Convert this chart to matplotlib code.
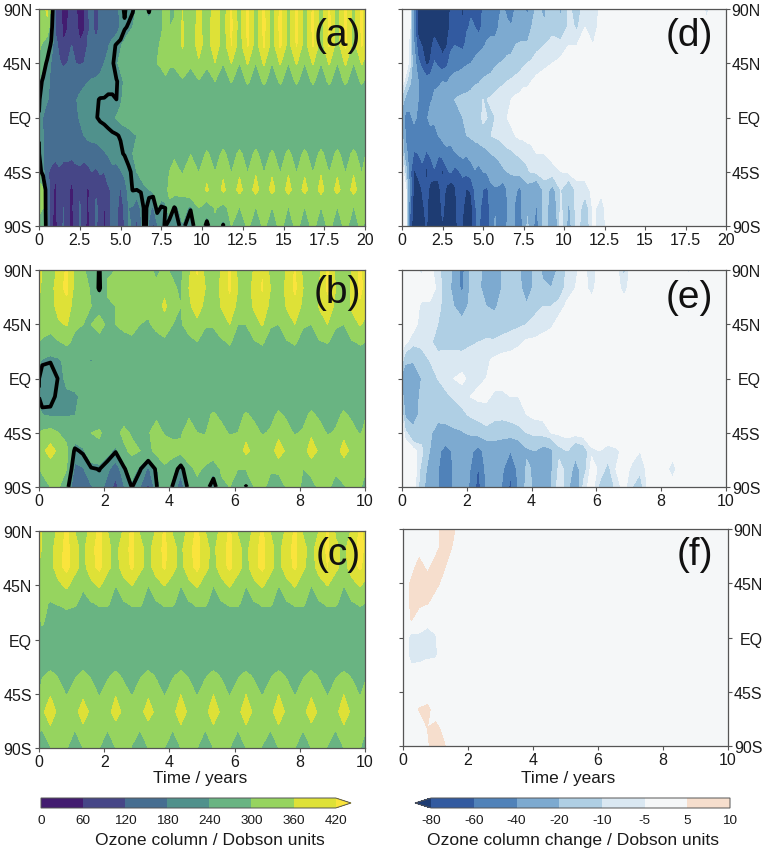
import numpy as np
import matplotlib
matplotlib.use("Agg")
import matplotlib.pyplot as plt
from matplotlib.colors import ListedColormap, BoundaryNorm

plt.rcParams['font.family'] = ['Liberation Sans', 'DejaVu Sans']

LAT = [90, 75, 60, 45, 30, 15, 0, -15, -30, -45, -60, -75, -90]

TIME_EARLY = [0, .25, .5, .75, 1, 1.25, 1.5, 1.75, 2, 2.25, 2.5, 2.75, 3, 3.25, 3.5, 3.75, 4, 4.25, 4.5, 4.75,
              5, 5.25, 5.5, 5.75, 6, 6.25, 6.5, 6.75, 7, 7.25, 7.5, 7.75, 8]
TIME_A_LATE = [8.3, 8.8, 9.3, 9.8, 10.3, 10.8, 11.3, 11.8, 12.3, 12.8, 13.3, 13.8, 14.3, 14.8, 15.3, 15.8,
               16.3, 16.8, 17.3, 17.8, 18.3, 18.8, 19.3, 19.8, 20]
TIME_D_LATE = [8.3, 8.8, 9.3, 9.8, 10.3, 10.8, 11.3, 11.8, 12.3, 12.8, 13.3, 18.3, 18.8, 19.3, 20]
TIME_10 = [0, .1, .35, .6, .85, 1.1, 1.35, 1.6, 1.85, 2.1, 2.35, 2.6, 2.85, 3.1, 3.35, 3.6, 3.85, 4.1, 4.35, 4.6, 4.85,
           5.1, 5.35, 5.6, 5.85, 6.1, 6.35, 6.6, 6.85, 7.1, 7.35, 7.6, 7.85, 8.1, 8.35, 8.6, 8.85, 9.1, 9.35, 9.6, 9.85, 10]
TIME_F = [0, .25, .5, .75, 1, 1.25, 1.5, 1.75, 2, 10]

A_EARLY = [
 [320,340,370,280, 120,75,45,50, 100,65,45,50, 120,130,110,125, 150,135,125,150, 205,225,205,215, 245,265,250,212, 262,285,295,315, 300],
 [320,335,345,250, 110,80,50,58, 105,75,45,52, 115,125,110,125, 150,140,130,150, 185,215,225,240, 265,275,270,255, 270,285,295,310, 300],
 [310,290,260,210, 140,105,62,85, 120,100,65,75, 125,135,125,135, 165,175,205,225, 235,250,270,280, 290,290,285,285, 285,295,305,330, 310],
 [290,250,210,175, 140,125,110,120, 130,120,115,120, 145,150,145,160, 180,195,215,235, 250,265,280,285, 285,285,280,285, 295,300,305,320, 305],
 [240,212,190,172, 160,150,155,165, 165,165,170,172, 178,185,190,195, 200,205,210,218, 228,245,255,265, 270,275,278,280, 280,280,285,290, 285],
 [225,195,182,175, 168,165,165,168, 172,178,185,195, 205,212,216,222, 222,226,224,220, 235,250,258,262, 265,268,268,270, 270,272,272,272, 272],
 [218,178,165,162, 165,170,172,168, 170,175,182,192, 205,212,218,225, 228,232,236,242, 248,255,258,262, 265,266,266,268, 268,268,268,268, 268],
 [219,180,165,160, 158,160,162,162, 160,165,172,180, 188,192,198,203, 207,212,216,218, 222,224,228,235, 240,248,252,258, 264,268,270,272, 272],
 [222,185,155,148, 150,145,135,135, 140,145,140,140, 155,160,155,165, 175,185,195,205, 215,223,230,240, 248,255,258,262, 268,280,275,282, 285],
 [250,195,130,105, 70,110,100,100, 78,100,110,95, 100,120,110,125, 120,150,170,160, 175,195,215,225, 240,250,258,262, 270,285,290,285, 300],
 [340,310,160,85, 45,85,110,75, 45,80,110,85, 50,85,115,95, 70,110,130,135, 115,150,200,222, 220,225,235,240, 250,290,275,285, 310],
 [320,300,170,75, 45,90,120,80, 45,90,125,90, 50,90,125,110, 50,105,135,140, 85,130,180,175, 125,190,235,195, 170,240,215,220, 290],
 [270,250,205,70, 40,85,125,75, 40,90,125,80, 40,95,125,100, 45,100,135,150, 70,125,190,170, 100,165,240,170, 100,170,205,225, 180],
]
A_LATE = [
 [295,360,310,375,320,395,325,425,330,430,330,432,330,435,335,430,330,430,330,430,330,435,335,430,400],
 [305,365,315,385,320,405,325,430,330,432,330,435,330,438,335,432,330,432,330,432,330,435,335,430,400],
 [315,365,320,385,325,400,325,420,330,425,330,428,330,430,335,425,330,425,330,425,330,430,335,425,395],
 [305,335,305,350,305,358,300,362,298,365,298,368,298,365,298,365,298,365,298,365,298,368,298,365,340],
 [285,293,285,296,285,300,283,302,282,305,282,306,282,305,282,305,282,305,282,306,282,306,282,305,295],
 [272,273,272,274,272,275,272,275,272,275,272,276,272,275,272,275,272,275,272,276,272,275,272,275,272],
 [268,268,268,268,268,268,268,268,268,268,268,268,268,268,268,268,268,268,268,268,268,268,268,268,268],
 [272,272,272,272,272,272,272,272,272,272,272,272,272,272,272,272,272,272,272,272,272,272,272,272,272],
 [292,282,298,282,305,282,308,282,308,282,308,282,306,282,308,282,308,282,308,282,308,282,308,282,295],
 [315,295,330,298,345,298,350,296,352,296,355,296,352,296,355,296,352,296,355,296,352,296,355,296,320],
 [340,320,355,325,368,325,372,325,378,325,380,325,378,325,380,325,378,325,380,325,378,325,380,325,340],
 [215,265,225,300,260,305,280,320,298,325,298,325,298,325,298,325,298,325,298,325,298,325,298,325,310],
 [195,235,185,280,205,285,215,300,255,310,270,310,270,315,270,315,270,315,270,315,270,315,270,315,290],
]

B_VALUES = [
 [425, 350,325,375,430, 345,305,285,215, 295,300,310,320, 300,305,295,305, 295,285,345,425, 340,320,365,425, 345,320,365,415, 340,320,365,425, 345,320,345,425, 345,320,360,430, 400],
 [380, 340,330,400,435, 340,315,295,210, 305,310,320,335, 310,310,305,340, 305,295,360,405, 360,320,375,430, 360,325,380,425, 360,325,375,432, 360,325,365,430, 360,325,370,435, 400],
 [345, 335,330,385,400, 325,310,300,290, 295,300,325,345, 315,310,320,375, 310,300,350,385, 345,320,365,395, 345,320,370,395, 345,320,365,400, 345,320,365,400, 345,320,370,410, 390],
 [315, 315,310,350,365, 310,300,300,310, 295,300,310,315, 300,295,310,325, 300,295,320,345, 305,305,335,360, 300,300,335,365, 305,300,335,360, 305,300,335,360, 305,300,335,365, 345],
 [300, 295,290,295,310, 285,280,290,290, 282,280,285,290, 280,280,285,290, 278,278,285,298, 280,280,290,305, 280,282,295,305, 280,282,295,305, 282,282,295,302, 282,285,295,305, 300],
 [250, 235,222,232,255, 262,258,235,262, 266,268,268,268, 270,270,270,270, 272,272,272,272, 272,272,272,272, 272,272,272,272, 272,272,272,272, 272,272,272,272, 272,272,272,272, 272],
 [222, 178,205,222,250, 262,265,265,268, 268,268,268,268, 268,268,268,268, 268,268,268,268, 268,268,268,268, 268,268,268,268, 268,268,268,268, 268,268,268,268, 268,268,268,268, 268],
 [218, 190,205,232,232, 232,250,262,268, 270,270,270,270, 270,270,270,270, 270,270,270,270, 270,270,270,270, 270,270,270,270, 270,270,270,270, 270,270,270,270, 270,270,270,270, 270],
 [262, 240,232,235,235, 238,262,270,275, 278,278,280,285, 285,285,290,292, 292,298,290,285, 288,305,288,280, 285,305,290,280, 285,308,292,280, 285,308,290,280, 285,308,290,280, 295],
 [300, 310,320,300,285, 280,290,300,305, 285,285,310,295, 285,295,320,295, 285,290,335,300, 295,345,315,295, 300,345,315,295, 305,345,315,295, 305,350,320,295, 305,345,315,295, 310],
 [320, 345,385,345,310, 210,230,285,290, 260,225,290,310, 300,280,320,330, 325,320,335,335, 335,345,340,335, 335,372,345,335, 335,385,350,335, 335,385,350,335, 335,380,345,335, 335],
 [295, 310,325,310,300, 165,175,215,222, 190,150,210,270, 225,170,230,290, 260,195,285,310, 290,255,310,320, 300,305,320,320, 305,325,320,315, 300,325,320,315, 305,325,320,315, 305],
 [270, 275,300,305,245, 125,150,175,200, 160,95,175,222, 180,105,215,280, 215,150,240,285, 250,190,285,300, 270,215,300,310, 285,240,310,310, 295,270,315,305, 290,295,315,305, 285],
]

C_VALUES = [
 [425, 345,335,370,435, 360,335,375,435, 360,330,365,435, 355,330,365,430, 355,335,375,435, 360,335,375,430, 355,330,372,432, 358,332,370,430, 355,330,362,425, 350,335,365,430, 410],
 [400, 345,340,395,440, 375,345,405,440, 375,340,395,435, 375,340,395,432, 375,345,405,440, 375,345,400,435, 375,340,400,438, 375,340,400,435, 375,340,390,430, 375,345,395,440, 410],
 [350, 335,335,400,440, 380,335,400,435, 375,335,390,428, 375,335,390,428, 380,335,400,435, 378,335,395,432, 380,335,400,435, 378,335,395,430, 370,335,385,420, 375,335,390,430, 395],
 [320, 315,315,345,372, 330,305,340,368, 325,300,335,362, 325,300,335,362, 330,300,340,368, 328,300,338,366, 330,300,340,368, 328,300,338,366, 325,300,335,362, 325,300,338,365, 345],
 [312, 305,298,303,310, 305,288,296,305, 305,285,295,305, 305,285,295,305, 305,285,295,306, 305,285,295,305, 305,285,295,305, 305,285,295,305, 305,285,295,305, 305,285,295,305, 300],
 [290, 308,275,275,280, 278,272,272,276, 276,272,272,276, 276,272,272,276, 276,272,272,276, 276,272,272,276, 276,272,272,276, 276,272,272,276, 276,272,272,276, 276,272,272,276, 275],
 [272, 275,265,238,262, 265,265,265,265, 265,265,265,265, 265,265,265,265, 265,265,265,265, 265,265,265,265, 265,265,265,265, 265,265,265,265, 265,265,265,265, 265,265,265,265, 265],
 [265, 265,268,266,265, 265,268,266,265, 265,268,266,265, 265,268,266,265, 265,268,266,265, 265,268,266,265, 265,268,266,265, 265,268,266,265, 265,268,266,265, 265,268,266,265, 265],
 [292, 295,312,295,278, 295,312,295,278, 293,310,292,278, 295,312,295,278, 295,312,295,278, 295,312,295,278, 295,310,293,278, 295,312,295,278, 295,312,295,278, 295,310,295,278, 290],
 [300, 325,355,320,296, 320,345,318,296, 318,355,315,296, 320,350,318,296, 320,358,320,296, 320,358,318,296, 320,358,318,296, 320,358,320,296, 320,352,318,296, 320,358,320,296, 315],
 [340, 350,390,345,325, 340,390,345,325, 338,385,345,325, 340,385,345,325, 340,395,345,325, 340,395,345,325, 340,395,345,325, 340,395,345,325, 340,390,345,325, 340,395,345,325, 335],
 [305, 300,350,330,312, 300,345,325,310, 300,335,325,310, 300,335,325,310, 300,345,325,310, 300,345,325,310, 300,345,325,310, 300,345,325,310, 300,340,325,310, 300,345,325,310, 305],
 [270, 275,296,315,302, 270,300,315,300, 268,300,315,298, 270,300,315,300, 270,300,315,300, 270,300,315,300, 268,300,315,298, 270,300,315,300, 270,300,315,298, 270,300,315,302, 275],
]

D_EARLY = [
 [0,4,-3,-45, -90,-95,-100,-95, -90,-95,-100,-95, -78,-70,-72,-85, -65,-62,-65,-82, -55,-48,-50,-62, -42,-38,-45,-62, -35,-30,-38,-45, -25],
 [0,1,-5,-50, -90,-98,-100,-95, -90,-92,-95,-92, -75,-68,-70,-78, -62,-58,-60,-70, -52,-46,-45,-50, -38,-34,-36,-38, -28,-25,-27,-30, -20],
 [0,-1,-8,-40, -72,-82,-92,-88, -72,-80,-88,-82, -65,-60,-62,-65, -55,-50,-48,-45, -42,-38,-35,-32, -28,-26,-24,-24, -20,-19,-18,-18, -14],
 [0,-1,-8,-30, -55,-68,-84,-78, -58,-65,-72,-65, -52,-48,-48,-45, -42,-40,-36,-32, -30,-28,-26,-22, -20,-19,-17,-16, -14,-13,-11,-10, -9],
 [-2,-8,-18,-30, -40,-45,-50,-48, -42,-43,-40,-42, -36,-33,-30,-28, -27,-25,-22,-21, -18,-16,-15,-13, -12,-11,-10,-9, -8,-7,-6,-6, -5],
 [-12,-25,-30,-38, -40,-40,-40,-42, -38,-34,-30,-24, -22,-20,-18,-17, -16,-15,-13,-11, -10,-10,-9,-8, -7,-6,-5,-5, -4,-4,-3,-3, -2],
 [-30,-48,-45,-35, -45,-44,-43,-35, -38,-35,-32,-28, -25,-23,-22,-20, -18,-16,-14,-12, -9,-10,-11,-10, -8,-6,-5,-4, -4,-3,-3,-3, -2],
 [-15,-45,-48,-50, -52,-50,-48,-46, -44,-40,-35,-32, -30,-28,-25,-22, -20,-18,-16,-14, -12,-11,-10,-9, -8,-7,-6,-6, -5,-4,-4,-3, -3],
 [-5,-35,-50,-62, -60,-55,-62,-58, -52,-58,-52,-45, -50,-42,-38,-35, -38,-32,-28,-28, -25,-23,-20,-18, -16,-14,-12,-11, -10,-9,-8,-8, -7],
 [0,-15,-55,-85, -70,-65,-88,-70, -62,-72,-85,-65, -58,-68,-62,-55, -55,-50,-42,-48, -40,-38,-32,-30, -26,-22,-20,-18, -16,-14,-13,-11, -9],
 [3,-5,-45,-90, -100,-78,-72,-88, -100,-88,-70,-85, -98,-85,-65,-72, -82,-78,-58,-50, -60,-65,-45,-42, -45,-55,-38,-32, -36,-45,-32,-25, -28],
 [1,-3,-60,-95, -105,-85,-75,-90, -105,-92,-75,-90, -102,-90,-70,-78, -90,-90,-62,-55, -68,-75,-48,-42, -50,-60,-40,-28, -45,-55,-28,-22, -30],
 [0,-2,-65,-100, -110,-92,-78,-95, -115,-100,-82,-95, -108,-92,-72,-82, -105,-95,-62,-58, -70,-82,-48,-38, -48,-60,-38,-30, -45,-62,-30,-18, -32],
]
D_LATE = [
 [-18,-22,-12,-22,-8,-15,-5,-9,-3,-2,-1,0,-7,0,0],
 [-16,-19,-12,-18,-8,-11,-5,-7,-3,-2,-1,0,-3,0,0],
 [-12,-10,-8,-7,-5,-5,-4,-5,-3,-1,0,0,0,0,0],
 [-7,-6,-5,-4,-4,-3,-2,-1,0,0,0,0,0,0,0],
 [-4,-3,-3,-2,-1,-1,0,0,0,0,0,0,0,0,0],
 [-2,-1,-1,0,0,0,0,0,0,0,0,0,0,0,0],
 [-2,-1,-1,0,0,0,0,0,0,0,0,0,0,0,0],
 [-2,-2,-1,-1,0,0,0,0,0,0,0,0,0,0,0],
 [-5,-5,-4,-3,-3,-2,-1,0,0,0,0,0,0,0,0],
 [-8,-6,-6,-5,-4,-3,-2,-1,0,0,0,0,0,0,0],
 [-35,-15,-24,-10,-18,-7,-8,-3,-4,-2,0,0,0,0,0],
 [-42,-12,-32,-8,-22,-6,-14,-4,-7,-2,0,0,0,0,0],
 [-50,-10,-38,-6,-25,-7,-16,-4,-8,-2,0,0,0,0,0],
]

E_VALUES = [
 [0, 0,-3,-6,-3, -8,-14,-22,-48, -18,-15,-28,-42, -18,-15,-16,-35, -15,-22,-25,-18, -8,-6,-3,-8, -2,-1,-2,-12, -1,0,-1,-1, 0,0,-2,-6, 0,0,-6,0, 0],
 [0, 0,-1,-2,-2, -6,-14,-24,-45, -18,-16,-28,-35, -18,-14,-15,-30, -15,-18,-20,-15, -7,-5,-3,-7, -2,-1,-1,-8, -1,0,0,0, 0,0,0,-2, 0,0,0,0, 0],
 [0, -1,-2,-6,-6, -8,-13,-20,-28, -17,-16,-20,-22, -16,-14,-14,-18, -12,-10,-10,-7, -4,-3,-2,-2, -1,0,0,-1, 0,0,0,0, 0,0,0,0, 0,0,0,0, 0],
 [0, -1,-3,-7,-6, -10,-15,-15,-15, -14,-13,-14,-15, -13,-12,-11,-10, -8,-7,-6,-3, -3,-2,-1,-1, 0,0,0,0, 0,0,0,0, 0,0,0,0, 0,0,0,0, 0],
 [-2, -4,-8,-8,-9, -12,-14,-13,-13, -11,-10,-9,-9, -8,-7,-6,-4, -4,-3,-2,-2, -1,-1,0,0, 0,0,0,0, 0,0,0,0, 0,0,0,0, 0,0,0,0, 0],
 [-8, -15,-19,-14,-10, -8,-5,-6,-7, -7,-7,-6,-4, -3,-3,-2,-2, -1,-1,0,0, 0,0,0,0, 0,0,0,0, 0,0,0,0, 0,0,0,0, 0,0,0,0, 0],
 [-25, -38,-28,-20,-14, -10,-6,-5,-4, -6,-6,-5,-3, -3,-2,-2,-1, -1,-1,0,0, 0,0,0,0, 0,0,0,0, 0,0,0,0, 0,0,0,0, 0,0,0,0, 0],
 [-15, -30,-25,-18,-16, -14,-12,-9,-7, -5,-4,-4,-6, -6,-5,-5,-4, -3,-2,-1,-1, 0,0,0,0, 0,0,0,0, 0,0,0,0, 0,0,0,0, 0,0,0,0, 0],
 [-5, -22,-23,-18,-17, -16,-16,-15,-12, -9,-8,-7,-8, -8,-8,-7,-5, -4,-4,-3,-2, -1,-1,0,0, 0,0,0,0, 0,0,0,0, 0,0,0,0, 0,0,0,0, 0],
 [0, -8,-18,-14,-18, -25,-24,-22,-21, -18,-14,-12,-14, -15,-13,-12,-10, -8,-7,-5,-4, -3,-3,-2,-1, -1,-1,0,0, 0,0,0,0, 0,0,0,0, 0,0,0,0, 0],
 [0, 0,-3,-8,-20, -35,-48,-36,-32, -35,-48,-32,-28, -30,-40,-32,-22, -20,-25,-22,-12, -10,-16,-14,-6, -5,-7,-6,-4, -3,-5,-4,-2, -1,-3,-1,0, 0,0,0,0, 0],
 [0, 0,-1,-12,-25, -38,-55,-38,-30, -40,-62,-35,-28, -38,-55,-35,-18, -22,-35,-22,-8, -12,-25,-14,-3, -6,-12,-5,-3, -6,-9,-3,-3, -3,-7,-2,0, 0,-1,-2,0, 0],
 [0, 0,-1,-15,-28, -38,-55,-38,-30, -42,-68,-38,-26, -42,-65,-36,-15, -24,-38,-20,-5, -15,-35,-8,-2, -12,-18,-8,-3, -10,-13,-3,-1, -2,-3,-1,0, -1,-1,-5,0, 0],
]

F_VALUES = [
 [0,-1,0,1,3,7,7,2,0,0],
 [0,0,2,4,3,7,5,1,0,0],
 [0,2,7,3,7,6,2,0,0,0],
 [0,6,8,8,7,3,1,0,0,0],
 [0,6,7,6,2,0,0,0,0,0],
 [0,5.5,1,-1,-1,0,0,0,0,0],
 [0,-8,-7,-10,-6,0,0,0,0,0],
 [0,-8,-7,-6,-6,-1,0,0,0,0],
 [0,-1,-2,-1,0,0,0,0,0,0],
 [0,0,0,0,0,0,0,0,0,0],
 [0,0,5.5,7,1,0,0,0,0,0],
 [0,0,-3,5,7,3,0,0,0,0],
 [0,0,-6,4,8,6,1,0,0,0],
]

OZONE_LEVELS = [0, 60, 120, 180, 240, 300, 360, 420]
CHANGE_LEVELS = [-80, -60, -40, -20, -10, -5, 5, 10]
HOLE_LEVEL = [220]
OZONE_COLORS = ['#431c70', '#464687', '#466e91', '#50918c', '#69b482', '#96d45f', '#dee137']
OZONE_OVER = '#fae43c'
CHANGE_COLORS = ['#325aa0', '#5082b9', '#7daad0', '#afcfe4', '#dae8f2', '#f5f7f8', '#f6decd']
CHANGE_UNDER = '#1e3c73'

W, H = 763, 853
fig = plt.figure(figsize=(W / 100, H / 100), dpi=100)
GRAY = '#555555'
INK = '#1a1a1a'


def box(x0, y0, x1, y1):
    return [x0 / W, 1 - y1 / H, (x1 - x0) / W, (y1 - y0) / H]


cmap_o = ListedColormap(OZONE_COLORS)
cmap_o.set_over(OZONE_OVER)
norm_o = BoundaryNorm(OZONE_LEVELS, cmap_o.N)
cmap_c = ListedColormap(CHANGE_COLORS)
cmap_c.set_under(CHANGE_UNDER)
norm_c = BoundaryNorm(CHANGE_LEVELS, cmap_c.N)


def style(ax, xticks, xlabels, right, label, lx, ly):
    ax.set_xticks(xticks)
    ax.set_xticklabels(xlabels)
    ax.set_yticks([90, 45, 0, -45, -90])
    ax.set_yticklabels(['90N', '45N', 'EQ', '45S', '90S'])
    ax.set_ylim(-90, 90)
    ax.set_xlim(xticks[0], xticks[-1])
    ax.tick_params(axis='x', labelsize=11.5, length=3, width=0.8, color=GRAY, pad=1, labelcolor=INK)
    ax.tick_params(axis='y', labelsize=11.5, length=3, width=0.8, color=GRAY, pad=2, labelcolor=INK)
    if right:
        ax.tick_params(axis='y', left=True, right=True, labelleft=False, labelright=True, pad=22)
        for t in ax.get_yticklabels():
            t.set_ha('right')
    for s in ax.spines.values():
        s.set_color(GRAY)
        s.set_linewidth(0.9)
    fig.text(lx / W, 1 - ly / H, label, fontsize=28, ha='right', va='center', color='#111111')


t20 = ['0', '2.5', '5.0', '7.5', '10', '12.5', '15', '17.5', '20']
x20 = [0, 2.5, 5, 7.5, 10, 12.5, 15, 17.5, 20]
t10 = ['0', '2', '4', '6', '8', '10']
x10 = [0, 2, 4, 6, 8, 10]

panels = [
    ('(a)', box(39, 10, 365, 227), TIME_EARLY + TIME_A_LATE, np.hstack([A_EARLY, A_LATE]), 'o', x20, t20, False, True, 361, 36),
    ('(b)', box(39, 271, 365, 488), TIME_10, np.array(B_VALUES), 'o', x10, t10, False, True, 361, 293),
    ('(c)', box(39, 532, 365, 749), TIME_10, np.array(C_VALUES), 'o', x10, t10, False, False, 361, 555),
    ('(d)', box(402, 10, 726, 227), TIME_EARLY + TIME_D_LATE, np.hstack([D_EARLY, D_LATE]), 'c', x20, t20, True, False, 713, 36),
    ('(e)', box(402, 271, 726, 488), TIME_10, np.array(E_VALUES), 'c', x10, t10, True, False, 713, 298),
    ('(f)', box(403, 530, 728, 747), TIME_F, np.array(F_VALUES), 'c', x10, t10, True, False, 713, 555),
]

mappable = {}
for label, pos, times, vals, kind, xt, xl, right, hole, lx, ly in panels:
    ax = fig.add_axes(pos)
    if kind == 'o':
        cf = ax.contourf(times, LAT, vals, levels=OZONE_LEVELS, cmap=cmap_o, norm=norm_o, extend='max')
    else:
        cf = ax.contourf(times, LAT, vals, levels=CHANGE_LEVELS, cmap=cmap_c, norm=norm_c, extend='min')
    mappable[kind] = cf
    if hole:
        ax.contour(times, LAT, vals, levels=HOLE_LEVEL, colors='k', linewidths=2.7)
    style(ax, xt, xl, right, label, lx, ly)

fig.text(200 / W, 1 - 779 / H, 'Time / years', fontsize=12.4, ha='center', va='center', color=INK)
fig.text(568 / W, 1 - 779 / H, 'Time / years', fontsize=12.4, ha='center', va='center', color=INK)

cax1 = fig.add_axes(box(41, 799, 351, 809))
cb1 = fig.colorbar(mappable['o'], cax=cax1, orientation='horizontal', extendfrac=0.052, ticks=OZONE_LEVELS)
cax2 = fig.add_axes(box(415, 799, 730, 809))
cb2 = fig.colorbar(mappable['c'], cax=cax2, orientation='horizontal', extendfrac=0.054, ticks=CHANGE_LEVELS)
for cb in (cb1, cb2):
    cb.ax.tick_params(labelsize=9.7, length=0, pad=4, labelcolor=INK)
    cb.outline.set_edgecolor(GRAY)
    cb.outline.set_linewidth(0.7)
    cb.dividers.set_linewidth(0)
cb2.ax.set_xticklabels([str(v) for v in CHANGE_LEVELS])
fig.text(210 / W, 1 - 841 / H, 'Ozone column / Dobson units', fontsize=12.6, ha='center', va='center', color=INK)
fig.text(573 / W, 1 - 841 / H, 'Ozone column change / Dobson units', fontsize=12.6, ha='center', va='center', color=INK)

fig.savefig('out.png', dpi=100, facecolor='white')
